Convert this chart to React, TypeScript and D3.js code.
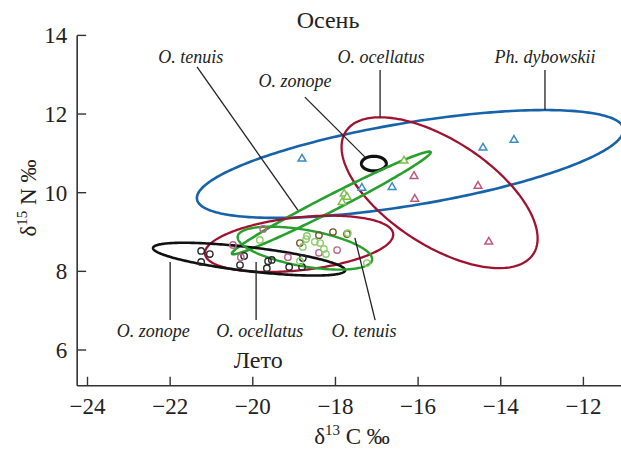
import * as d3 from 'd3';
import React, { useEffect, useRef } from 'react';

const width = 621
const height = 451

const xTicks = [-24, -22, -20, -18, -16, -14, -12]
const yTicks = [6, 8, 10, 12, 14]

// ellipses: center, semi axes (x units), rotation in degrees
const ellipseNames = ['Ph. dybowskii', 'O. ocellatus', 'O. zonope', 'O. tenuis', 'O. ocellatus', 'O. zonope', 'O. tenuis']
const ellipseSeason = ['autumn', 'autumn', 'autumn', 'autumn', 'summer', 'summer', 'summer']
const ellipseCx = [-16.19, -15.48, -17.07, -18.10, -18.88, -20.09, -18.74]
const ellipseCy = [10.73, 10.0, 10.74, 9.74, 8.70, 8.31, 8.59]
const ellipseA = [5.23, 2.71, 0.30, 2.70, 2.29, 2.34, 1.65]
const ellipseB = [1.0, 1.27, 0.177, 0.19, 0.64, 0.29, 0.44]
const ellipseAngle = [9.4, -33.2, 0, 27.1, 6.1, -6.7, -10]

// autumn points (triangles)
const dybowskiiAutumn = [[-18.81, 10.86], [-17.36, 10.12], [-16.63, 10.14], [-14.43, 11.14], [-13.68, 11.34]]
const ocellatusAutumn = [[-16.10, 10.42], [-16.08, 9.84], [-14.55, 10.17], [-14.29, 8.75]]
const tenuisAutumn = [[-17.79, 9.97], [-17.72, 9.89], [-17.84, 9.76], [-16.34, 10.81]]

// summer points (circles)
const zonopeSummer = [[-21.25, 8.52], [-21.04, 8.44], [-21.25, 8.24], [-20.31, 8.16], [-20.21, 8.39], [-19.63, 8.26],
  [-19.54, 8.29], [-19.66, 8.08], [-19.12, 8.11], [-18.79, 8.34], [-18.81, 8.11]]
const ocellatusSummer = [[-20.48, 8.67], [-20.29, 8.36], [-19.75, 9.08], [-19.15, 8.36], [-18.40, 8.47], [-17.96, 8.54]]
const mixedSummer = [[-18.86, 8.72], [-18.40, 8.92], [-18.06, 9.00], [-17.72, 8.95]]
const tenuisSummer = [[-19.83, 8.80], [-18.71, 8.82], [-18.50, 8.75], [-18.37, 8.72], [-18.28, 8.57], [-18.23, 8.44],
  [-18.79, 8.62], [-18.86, 8.26], [-17.24, 8.21], [-17.70, 8.97], [-18.69, 8.90]]

// annotation labels and their leader lines
const labelText = ['O. tenuis', 'O. zonope', 'O. ocellatus', 'Ph. dybowskii', 'O. zonope', 'O. ocellatus', 'O. tenuis']
const labelPos = [[-21.50, 13.30], [-18.98, 12.69], [-16.90, 13.30], [-12.93, 13.30], [-22.41, 6.33], [-19.83, 6.33], [-17.31, 6.33]]
const leaderFrom = [[-21.35, 13.20], [-18.74, 12.43], [-16.92, 13.12], [-12.93, 13.12], [-22.0, 6.76], [-19.92, 6.76], [-17.04, 6.76]]
const leaderTo = [[-18.91, 9.56], [-17.29, 10.91], [-16.92, 11.92], [-12.93, 12.10], [-22.0, 8.24], [-19.92, 8.24], [-17.53, 8.85]]

const seasonText = ['Осень', 'Лето']
const seasonPos = [[-18.18, 14.19], [-19.87, 5.54]]

const colors = {
  blue: '#1763aa',
  red: '#a11230',
  green: '#28a02e',
  black: '#111111'
}
const ellipseColor = [colors.blue, colors.red, colors.black, colors.green, colors.red, colors.black, colors.green]
const ellipseStroke = [2.6, 2.3, 3.2, 2.6, 2.3, 2.6, 2.4]

export default function App() {
  const ref = useRef(null)

  useEffect(() => {
    const svg = d3.select(ref.current)
    svg.selectAll('*').remove()

    const x = d3.scaleLinear().domain([-24, -12]).range([87.5, 583.4])
    const y = d3.scaleLinear().domain([6, 14]).range([350, 35.4])
    const k = x(1) - x(0)
    const font = '"Liberation Serif", "Times New Roman", serif'

    const xLeft = x(-24.25)
    const yBottom = y(5.09)

    // axes
    svg.append('line').attr('x1', xLeft).attr('x2', width).attr('y1', yBottom).attr('y2', yBottom)
      .attr('stroke', '#333').attr('stroke-width', 1.6)
    svg.append('line').attr('x1', xLeft).attr('x2', xLeft).attr('y1', y(14)).attr('y2', yBottom)
      .attr('stroke', '#333').attr('stroke-width', 1.6)

    svg.selectAll('.xtick').data(xTicks).enter().append('line')
      .attr('x1', d => x(d)).attr('x2', d => x(d)).attr('y1', yBottom).attr('y2', yBottom - 9)
      .attr('stroke', '#333').attr('stroke-width', 1.4)
    svg.selectAll('.xlab').data(xTicks).enter().append('text')
      .attr('x', d => x(d)).attr('y', yBottom + 28)
      .attr('text-anchor', 'middle').attr('font-family', font).attr('font-size', 23).attr('fill', '#222')
      .text(d => '\u2212' + Math.abs(d))

    svg.selectAll('.ytick').data(yTicks).enter().append('line')
      .attr('x1', xLeft).attr('x2', xLeft + 9).attr('y1', d => y(d)).attr('y2', d => y(d))
      .attr('stroke', '#333').attr('stroke-width', 1.4)
    svg.selectAll('.ylab').data(yTicks).enter().append('text')
      .attr('x', xLeft - 10).attr('y', d => y(d) + 8)
      .attr('text-anchor', 'end').attr('font-family', font).attr('font-size', 23).attr('fill', '#222')
      .text(d => d)

    // axis titles
    const xt = svg.append('text').attr('x', 352).attr('y', 444).attr('text-anchor', 'middle')
      .attr('font-family', font).attr('font-size', 23).attr('fill', '#222')
    xt.append('tspan').text('\u03b4')
    xt.append('tspan').attr('font-size', 15).attr('dy', -9).text('13')
    xt.append('tspan').attr('dy', 9).text(' C \u2030')

    const yt = svg.append('text').attr('transform', 'translate(36,198) rotate(-90)').attr('text-anchor', 'middle')
      .attr('font-family', font).attr('font-size', 23).attr('fill', '#222')
    yt.append('tspan').text('\u03b4')
    yt.append('tspan').attr('font-size', 15).attr('dy', -9).text('15')
    yt.append('tspan').attr('dy', 9).text(' N \u2030')

    // ellipses
    const line = d3.line().curve(d3.curveLinearClosed)
    const ts = d3.range(0, Math.PI * 2, Math.PI / 120)
    ellipseCx.forEach((cx, i) => {
      const th = ellipseAngle[i] * Math.PI / 180
      const a = ellipseA[i], b = ellipseB[i]
      const pts = ts.map(t => [
        x(cx) + k * (a * Math.cos(t) * Math.cos(th) - b * Math.sin(t) * Math.sin(th)),
        y(ellipseCy[i]) - k * (a * Math.cos(t) * Math.sin(th) + b * Math.sin(t) * Math.cos(th))
      ])
      svg.append('path').attr('d', line(pts)).attr('fill', 'none')
        .attr('stroke', ellipseColor[i]).attr('stroke-width', ellipseStroke[i])
        .attr('class', ellipseSeason[i]).attr('data-name', ellipseNames[i])
    })

    // points
    const tri = d3.symbol(d3.symbolTriangle).size(26)()
    const drawTri = (data, c) => {
      svg.append('g').selectAll('path').data(data).enter().append('path')
        .attr('d', tri).attr('transform', d => `translate(${x(d[0])},${y(d[1])})`)
        .attr('fill', '#fff').attr('stroke', c).attr('stroke-width', 1.5)
    }
    drawTri(dybowskiiAutumn, '#3b8cc4')
    drawTri(ocellatusAutumn, '#c0587c')
    drawTri(tenuisAutumn, '#7cbf4e')

    const drawCirc = (data, c) => {
      svg.append('g').selectAll('circle').data(data).enter().append('circle')
        .attr('cx', d => x(d[0])).attr('cy', d => y(d[1])).attr('r', 3.2)
        .attr('fill', 'none').attr('stroke', c).attr('stroke-width', 1.4)
    }
    drawCirc(zonopeSummer, '#2a2a2a')
    drawCirc(ocellatusSummer, '#c0628a')
    drawCirc(mixedSummer, '#6e5a2c')
    drawCirc(tenuisSummer, '#8ccc6a')

    // leader lines + labels
    labelText.forEach((t, i) => {
      svg.append('line')
        .attr('x1', x(leaderFrom[i][0])).attr('y1', y(leaderFrom[i][1]))
        .attr('x2', x(leaderTo[i][0])).attr('y2', y(leaderTo[i][1]))
        .attr('stroke', '#222').attr('stroke-width', 1.3)
      svg.append('text').attr('x', x(labelPos[i][0])).attr('y', y(labelPos[i][1]))
        .attr('text-anchor', 'middle').attr('font-family', font).attr('font-style', 'italic')
        .attr('font-size', 18).attr('fill', '#222').text(t)
    })

    seasonText.forEach((t, i) => {
      svg.append('text').attr('x', x(seasonPos[i][0])).attr('y', y(seasonPos[i][1]))
        .attr('text-anchor', 'middle').attr('font-family', font)
        .attr('font-size', 24).attr('fill', '#222').text(t)
    })
  }, [])

  return <svg ref={ref} width={width} height={height}
    style={{ position: 'absolute', left: 0, top: 0, background: '#fff' }} />
}
